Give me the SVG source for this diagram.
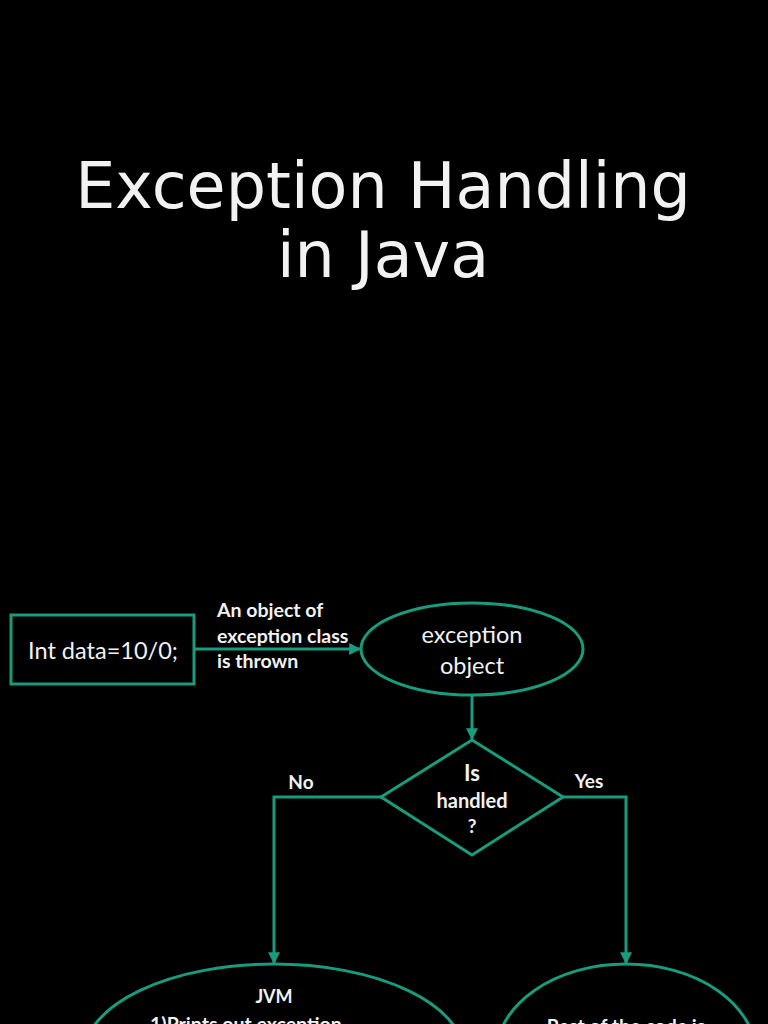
<svg xmlns="http://www.w3.org/2000/svg" width="768" height="1024" viewBox="0 0 768 1024">
<defs>
<style>
.shape{fill:none;stroke:#179c7d;stroke-width:3}
.conn{fill:none;stroke:#179c7d;stroke-width:3}
.t{fill:#f2f2f2;font-family:Lato,"Liberation Sans",sans-serif;text-anchor:middle}
.s{text-anchor:start}
.b{font-weight:bold}
.title{fill:#f2f2f2;font-family:"DejaVu Sans",sans-serif;font-size:63.5px;text-anchor:middle}
</style>
<marker id="ah" viewBox="0 0 10 10" refX="9" refY="5" markerWidth="4" markerHeight="4" orient="auto" markerUnits="strokeWidth">
<path d="M0,0 L10,5 L0,10 z" fill="#179c7d"/>
</marker>
</defs>
<rect width="768" height="1024" fill="#000"/>
<g id="title">
<text class="title" x="383" y="208">Exception Handling</text>
<text class="title" x="383" y="277">in Java</text>
</g>
<g id="connectors">
<line class="conn" x1="194" y1="649" x2="360" y2="649" marker-end="url(#ah)"/>
<line class="conn" x1="472" y1="695" x2="472" y2="739" marker-end="url(#ah)"/>
<polyline class="conn" points="381,797 274,797 274,963" marker-end="url(#ah)"/>
<polyline class="conn" points="563,797 626,797 626,963" marker-end="url(#ah)"/>
<text class="t b s" x="217" y="617" font-size="19.5">An object of</text>
<text class="t b s" x="217" y="643" font-size="19.5">exception class</text>
<text class="t b s" x="217" y="668" font-size="19.5">is thrown</text>
<text class="t b" x="301" y="789" font-size="19">No</text>
<text class="t b" x="589" y="788" font-size="19">Yes</text>
</g>
<g id="n-code">
<rect class="shape" x="11" y="615" width="183" height="69"/>
<text class="t" x="103" y="659" font-size="23.5">Int data=10/0;</text>
</g>
<g id="n-exception">
<ellipse class="shape" cx="472" cy="649" rx="111" ry="46"/>
<text class="t" x="472" y="643" font-size="23.5">exception</text>
<text class="t" x="472" y="674" font-size="23.5">object</text>
</g>
<g id="n-handled">
<polygon class="shape" points="472,740 563,797 472,855 381,797"/>
<text class="t b" x="472" y="781" font-size="22">Is</text>
<text class="t b" x="472" y="808" font-size="20">handled</text>
<text class="t b" x="472" y="833" font-size="19">?</text>
</g>
<g id="n-jvm">
<ellipse class="shape" cx="274" cy="1055" rx="190" ry="91"/>
<text class="t b" x="274" y="1003" font-size="18">JVM</text>
<text class="t b s" x="150" y="1031" font-size="19.5">1)Prints out exception</text>
</g>
<g id="n-rest">
<ellipse class="shape" cx="626" cy="1055" rx="130" ry="91"/>
<text class="t b" x="626" y="1033" font-size="19.5">Rest of the code is</text>
</g>
</svg>
